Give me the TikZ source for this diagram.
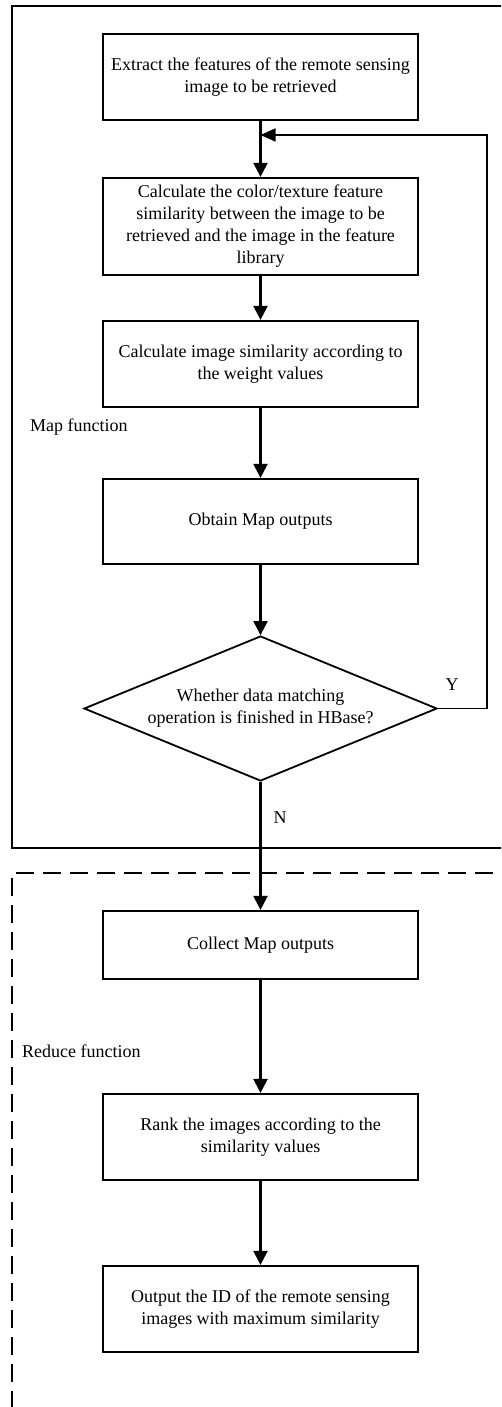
\documentclass[tikz,border=0pt]{standalone}
\usepackage{fontspec}
\setmainfont{Liberation Serif}
\usetikzlibrary{shapes.geometric,arrows.meta}
\tikzset{
  procbox/.style={draw, line width=2.2pt, rectangle, minimum width=315pt, inner sep=0pt, align=center, font=\fontsize{18}{22}\selectfont},
  decbox/.style={draw, line width=1.8pt, diamond, aspect=2.43, minimum width=353pt, minimum height=145pt, inner sep=0pt, align=center, font=\fontsize{18}{22}\selectfont},
  flow/.style={line width=2.2pt, -{Triangle[length=14pt,width=14pt]}},
  back/.style={line width=1.8pt, -{Triangle[length=15pt,width=13pt]}},
  lbl/.style={font=\fontsize{18}{22}\selectfont, inner sep=0pt},
  mapframe/.style={draw, line width=2.2pt},
  redframe/.style={draw, line width=2.2pt, dash pattern=on 18pt off 9pt}
}
\begin{document}
\begin{tikzpicture}[x=1pt,y=-1pt]
\useasboundingbox (0,0) rectangle (501,1407);
\clip (0,0) rectangle (501,1407);
\fill[white] (0,0) rectangle (501,1407);
% frames
\draw[mapframe] (12,6) rectangle (520,848);
\draw[redframe] (520,873) -- (12,873) -- (12,1420);
% nodes
\node[procbox, minimum height=86pt] (b1) at (260.5,77) {Extract the features of the remote sensing\\image to be retrieved};
\node[procbox, minimum height=97pt] (b2) at (260.5,226.5) {Calculate the color/texture feature\\similarity between the image to be\\retrieved and the image in the feature\\library};
\node[procbox, minimum height=86pt] (b3) at (260.5,364) {Calculate image similarity according to\\the weight values};
\node[procbox, minimum height=85pt] (b4) at (260.5,521.5) {Obtain Map outputs};
\node[decbox] (d) at (260.5,708.5) {Whether data matching\\operation is finished in HBase?};
\node[procbox, minimum height=68pt] (c1) at (260.5,945) {Collect Map outputs};
\node[procbox, minimum height=86pt] (c2) at (260.5,1137) {Rank the images according to the\\similarity values};
\node[procbox, minimum height=86pt] (c3) at (260.5,1309) {Output the ID of the remote sensing\\images with maximum similarity};
% labels
\node[lbl, anchor=west] (mapl) at (30,427) {Map function};
\node[lbl, anchor=west] (redl) at (22,1051) {Reduce function};
\node[lbl] (yl) at (452,685) {Y};
\node[lbl] (nl) at (280,818) {N};
% connectors
\coordinate (j) at (260.5,135);
\coordinate (r) at (487,708.5);
\draw[flow] (b1) -- (b2);
\draw[flow] (b2) -- (b3);
\draw[flow] (b3) -- (b4);
\draw[flow] (b4) -- (d);
\draw[flow] (d) -- (c1);
\draw[flow] (c1) -- (c2);
\draw[flow] (c2) -- (c3);
\draw[back] (d.east) -- (r) |- (j);
\end{tikzpicture}
\end{document}
